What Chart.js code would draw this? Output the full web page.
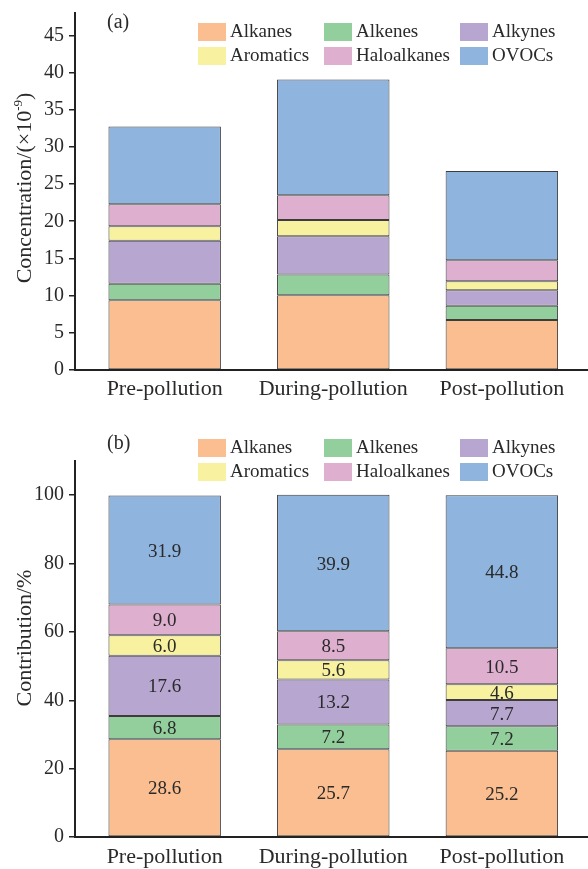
<!DOCTYPE html>
<html><head><meta charset="utf-8">
<script src="https://cdn.jsdelivr.net/npm/chart.js@4.4.0/dist/chart.umd.min.js"></script>
<style>
html,body{margin:0;padding:0;background:#fff;}
canvas{display:block;}
</style></head><body>
<canvas id="c1" width="588" height="420"></canvas>
<canvas id="c2" width="588" height="449"></canvas>
<script>
// ---- data ----
const categories = ['Pre-pollution', 'During-pollution', 'Post-pollution'];
const groups = ['Alkanes', 'Alkenes', 'Alkynes', 'Aromatics', 'Haloalkanes', 'OVOCs'];
const colors = ['#FABE91', '#93CF9D', '#B7A6D0', '#F8F2A0', '#DFAFCF', '#8FB4DE'];

// (a) concentration, ×10^-9
const alkanesConc     = [9.37, 10.04, 6.73];
const alkenesConc     = [2.23, 2.81, 1.92];
const alkynesConc     = [5.77, 5.15, 2.06];
const aromaticsConc   = [1.97, 2.18, 1.23];
const haloalkanesConc = [2.95, 3.32, 2.80];
const ovocsConc       = [10.46, 15.55, 12.00];

// (b) contribution, %
const alkanesPct     = [28.6, 25.7, 25.2];
const alkenesPct     = [6.8, 7.2, 7.2];
const alkynesPct     = [17.6, 13.2, 7.7];
const aromaticsPct   = [6.0, 5.6, 4.6];
const haloalkanesPct = [9.0, 8.5, 10.5];
const ovocsPct       = [31.9, 39.9, 44.8];

const concTicks = [0, 5, 10, 15, 20, 25, 30, 35, 40, 45];
const pctTicks  = [0, 20, 40, 60, 80, 100];

// ---- style ----
const FONT = '"Liberation Serif", "Times New Roman", serif';
const TXT = '#2a2a2a';
const X_MIN = -0.532, X_MAX = 2.511;

function buildDatasets(series) {
  return groups.map((g, i) => ({
    label: g,
    data: series[i].map((v, j) => ({ x: j, y: v })),
    backgroundColor: colors[i],
    borderColor: '#3c3c3c',
    borderWidth: 1,
    borderSkipped: false,
    barPercentage: 0.667,
    categoryPercentage: 1
  }));
}

function decorPlugin(cfg) {
  return {
    id: 'decor',
    afterDatasetsDraw(chart) {
      const ctx = chart.ctx;
      if (cfg.valueLabels) {
        ctx.save();
        ctx.font = '19px ' + FONT;
        ctx.fillStyle = TXT;
        ctx.textAlign = 'center';
        ctx.textBaseline = 'middle';
        chart.data.datasets.forEach((ds, i) => {
          const meta = chart.getDatasetMeta(i);
          meta.data.forEach((el, j) => {
            const c = el.getCenterPoint();
            ctx.fillText(ds.data[j].y.toFixed(1), c.x, c.y + 1.5);
          });
        });
        ctx.restore();
      }
    },
    afterDraw(chart) {
      const ctx = chart.ctx;
      ctx.save();
      // legend
      ctx.font = '19px ' + FONT;
      ctx.textBaseline = 'middle';
      ctx.textAlign = 'left';
      const colX = [198, 324, 460];
      chart.data.datasets.forEach((ds, i) => {
        const col = i % 3, row = Math.floor(i / 3);
        const x = colX[col], y = cfg.legendTop + row * 24;
        ctx.fillStyle = ds.backgroundColor;
        ctx.fillRect(x, y, 28, 18);
        ctx.fillStyle = TXT;
        ctx.fillText(ds.label, x + 32, y + 9.5);
      });
      // panel letter
      ctx.font = '20px ' + FONT;
      ctx.fillText(cfg.panel, 107, cfg.panelY);
      // y-axis title (rotated)
      ctx.translate(30.5, cfg.titleY);
      ctx.rotate(-Math.PI / 2);
      ctx.textBaseline = 'alphabetic';
      const parts = cfg.titleParts;
      let total = 0;
      parts.forEach(p => { ctx.font = p.size + 'px ' + FONT; p.w = ctx.measureText(p.t).width; total += p.w; });
      let x = -total / 2;
      parts.forEach(p => {
        ctx.font = p.size + 'px ' + FONT;
        ctx.fillText(p.t, x, -(p.rise || 0));
        x += p.w;
      });
      ctx.restore();
    }
  };
}

function makeChart(id, series, cfg) {
  return new Chart(document.getElementById(id), {
    type: 'bar',
    data: { datasets: buildDatasets(series) },
    options: {
      responsive: false,
      animation: false,
      events: [],
      layout: { padding: { top: cfg.top, left: 0, right: 0, bottom: 0 } },
      plugins: { legend: { display: false }, tooltip: { enabled: false } },
      scales: {
        x: {
          type: 'linear', stacked: true, offset: false, min: X_MIN, max: X_MAX,
          afterBuildTicks: s => { s.ticks = categories.map((c, i) => ({ value: i })); },
          afterFit: s => { s.height = cfg.xHeight; s.paddingLeft = 0; s.paddingRight = 0; },
          ticks: {
            callback: v => categories[v],
            font: { family: FONT, size: 22 }, color: TXT,
            padding: cfg.xPad, maxRotation: 0, autoSkip: false
          },
          grid: { display: false, drawTicks: false, offset: false },
          border: { display: true, color: '#222', width: 2 }
        },
        y: {
          stacked: true, min: 0, max: cfg.yMax,
          afterBuildTicks: s => { s.ticks = cfg.yTicks.map(v => ({ value: v })); },
          afterFit: s => { s.width = 75; s.paddingTop = 0; s.paddingBottom = 0; },
          ticks: { font: { family: FONT, size: 20 }, color: TXT, padding: 5 },
          grid: { drawOnChartArea: false, drawTicks: true, tickLength: 6, color: '#222', lineWidth: 1.5 },
          border: { display: true, color: '#222', width: 2 },
          title: { display: false }
        }
      }
    },
    plugins: [decorPlugin(cfg)]
  });
}

makeChart('c1',
  [alkanesConc, alkenesConc, alkynesConc, aromaticsConc, haloalkanesConc, ovocsConc],
  {
    top: 13, xHeight: 50, xPad: 6, yMax: 48, yTicks: concTicks,
    legendTop: 23, panel: '(a)', panelY: 23, titleY: 188, valueLabels: false,
    titleParts: [
      { t: 'Concentration/(×10', size: 22 },
      { t: '-9', size: 13, rise: 9 },
      { t: ')', size: 22 }
    ]
  });

makeChart('c2',
  [alkanesPct, alkenesPct, alkynesPct, aromaticsPct, haloalkanesPct, ovocsPct],
  {
    top: 41, xHeight: 32, xPad: 7, yMax: 110, yTicks: pctTicks,
    legendTop: 19, panel: '(b)', panelY: 23.5, titleY: 218, valueLabels: true,
    titleParts: [{ t: 'Contribution/%', size: 22 }]
  });
</script>
</body></html>
